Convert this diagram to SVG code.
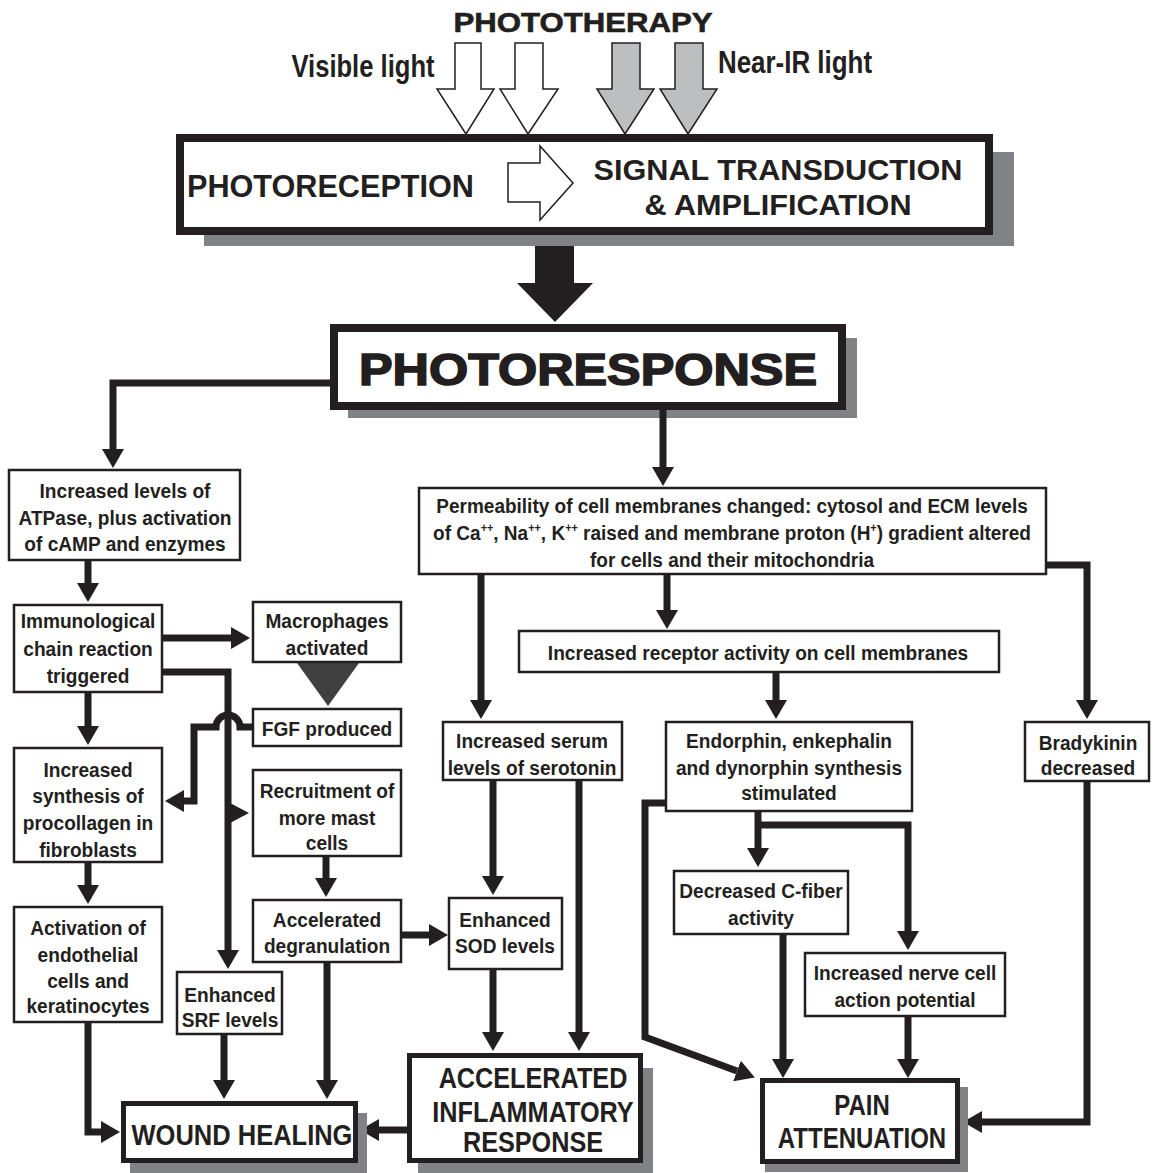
<svg xmlns="http://www.w3.org/2000/svg" width="1153" height="1173" viewBox="0 0 1153 1173">
<defs>
<style>
.t{font-family:"Liberation Sans",Arial,sans-serif;font-weight:bold;fill:#231f20;text-anchor:middle}
.s{font-size:21px}
.big{font-size:30px}
.w{font-family:"Liberation Sans",Arial,sans-serif;font-weight:bold;fill:#231f20}
.box{fill:#fff;stroke:#231f20;stroke-width:2.5}
.bbox{fill:#fff;stroke:#231f20;stroke-width:5}
.hbox{fill:#fff;stroke:#231f20;stroke-width:8}
.shadow{fill:#808285}
.c{fill:none;stroke:#231f20;stroke-width:7;marker-end:url(#ah)}
.la{stroke:#231f20;stroke-width:1.5;stroke-linejoin:miter}
</style>
<marker id="ah" markerUnits="userSpaceOnUse" markerWidth="20" markerHeight="22" refX="0" refY="11" orient="auto" viewBox="0 0 20 22">
<path d="M0,0 L19,11 L0,22 z" fill="#231f20"/>
</marker>
</defs>
<rect width="1153" height="1173" fill="#fff"/>

<g id="phototherapy">
<text class="w" x="583" y="32" font-size="27" text-anchor="middle" textLength="259" lengthAdjust="spacingAndGlyphs" stroke="#231f20" stroke-width="0.6">PHOTOTHERAPY</text>
<g transform="translate(363,0) scale(0.8,1)"><text class="t" x="0" y="77" font-size="32">Visible light</text></g>
<g transform="translate(795,0) scale(0.81,1)"><text class="t" x="0" y="73" font-size="32">Near-IR light</text></g>
<polygon class="la" fill="#fff" points="455,43 481,43 481,89 494,89 466,134 437,89 455,89"/>
<polygon class="la" fill="#fff" points="515,43 543,43 543,89 558,89 528,134 500,89 515,89"/>
<polygon class="la" fill="#bcbec0" points="612,43 640,43 640,89 654,89 625,134 597,89 612,89"/>
<polygon class="la" fill="#bcbec0" points="675,43 703,43 703,89 717,89 688,134 660,89 675,89"/>
</g>

<g id="signal-box">
<rect class="shadow" x="204" y="152" width="810" height="94"/>
<rect class="hbox" x="180" y="138" width="809" height="93"/>
<text class="w" x="187" y="197" font-size="31" textLength="287" lengthAdjust="spacingAndGlyphs">PHOTORECEPTION</text>
<polygon class="la" fill="#fff" points="508,163 540,163 540,146 573,183 540,220 540,202 508,202"/>
<text class="w" x="778" y="180" font-size="30" text-anchor="middle" textLength="369" lengthAdjust="spacingAndGlyphs">SIGNAL TRANSDUCTION</text>
<text class="w" x="778" y="215" font-size="30" text-anchor="middle" textLength="267" lengthAdjust="spacingAndGlyphs">&amp; AMPLIFICATION</text>
</g>

<g id="big-arrow">
<polygon fill="#231f20" points="535,246 574,246 574,283 593,283 555,322 517,283 535,283"/>
</g>

<g id="photoresponse">
<rect class="shadow" x="348" y="338" width="509" height="80"/>
<rect class="hbox" x="334" y="328" width="508" height="78"/>
<text class="w" x="588" y="385" font-size="45" text-anchor="middle" textLength="458" lengthAdjust="spacingAndGlyphs" stroke="#231f20" stroke-width="1.6">PHOTORESPONSE</text>
</g>

<g id="connectors">
<path class="c" d="M334,383 H113 V449"/>
<path class="c" d="M663,410 V467"/>
<path class="c" d="M88,561 V583"/>
<path class="c" d="M163,638 H231"/>
<path class="c" d="M163,672 H228 V950"/>
<polygon fill="#231f20" points="230,803 249,813 230,823"/>
<polygon fill="#404041" points="297,663 359,663 328,706"/>
<path class="c" d="M252,727 H240 A12,12 0 0 0 216,727 H194 V801 H184"/>
<path class="c" d="M88,693 V726"/>
<path class="c" d="M88,863 V885"/>
<path class="c" d="M88,1023 V1132 H101"/>
<path class="c" d="M224,1035 V1080"/>
<path class="c" d="M326,857 V878"/>
<path class="c" d="M327,963 V1080"/>
<path class="c" d="M402,935 H429"/>
<path class="c" d="M481,575 V700"/>
<path class="c" d="M667,575 V610"/>
<path class="c" d="M1047,565 H1087 V700"/>
<path class="c" d="M776,673 V700"/>
<path class="c" d="M493,781 V876"/>
<path class="c" d="M579,781 V1032"/>
<path class="c" d="M493,970 V1032"/>
<path class="c" d="M407,1130 H379"/>
<path class="c" d="M666,803 H645 V1037 L737,1071"/>
<path class="c" d="M758,812 V848"/>
<path class="c" d="M758,825 H908 V931"/>
<path class="c" d="M783,935 V1059"/>
<path class="c" d="M908,1017 V1059"/>
<path class="c" d="M1087,782 V1122 H982"/>
</g>

<g id="atpase">
<rect class="box" x="9" y="470" width="231" height="90"/>
<g transform="translate(125,0) scale(0.91,1)">
<text class="t s" x="0" y="498">Increased levels of</text>
<text class="t s" x="0" y="525">ATPase, plus activation</text>
<text class="t s" x="0" y="551">of cAMP and enzymes</text>
</g>
</g>
<g id="immunological">
<rect class="box" x="14" y="605" width="148" height="87"/>
<g transform="translate(88,0) scale(0.91,1)">
<text class="t s" x="0" y="628">Immunological</text>
<text class="t s" x="0" y="656">chain reaction</text>
<text class="t s" x="0" y="683">triggered</text>
</g>
</g>
<g id="macrophages">
<rect class="box" x="253" y="602" width="148" height="60"/>
<g transform="translate(327,0) scale(0.91,1)">
<text class="t s" x="0" y="628">Macrophages</text>
<text class="t s" x="0" y="655">activated</text>
</g>
</g>
<g id="fgf">
<rect class="box" x="253" y="709" width="148" height="37"/>
<g transform="translate(327,0) scale(0.91,1)">
<text class="t s" x="0" y="736">FGF produced</text>
</g>
</g>
<g id="procollagen">
<rect class="box" x="14" y="748" width="148" height="114"/>
<g transform="translate(88,0) scale(0.91,1)">
<text class="t s" x="0" y="777">Increased</text>
<text class="t s" x="0" y="803">synthesis of</text>
<text class="t s" x="0" y="830">procollagen in</text>
<text class="t s" x="0" y="857">fibroblasts</text>
</g>
</g>
<g id="recruitment">
<rect class="box" x="253" y="770" width="148" height="86"/>
<g transform="translate(327,0) scale(0.91,1)">
<text class="t s" x="0" y="798">Recruitment of</text>
<text class="t s" x="0" y="825">more mast</text>
<text class="t s" x="0" y="850">cells</text>
</g>
</g>
<g id="activation">
<rect class="box" x="14" y="907" width="148" height="115"/>
<g transform="translate(88,0) scale(0.91,1)">
<text class="t s" x="0" y="935">Activation of</text>
<text class="t s" x="0" y="962">endothelial</text>
<text class="t s" x="0" y="988">cells and</text>
<text class="t s" x="0" y="1013">keratinocytes</text>
</g>
</g>
<g id="srf">
<rect class="box" x="177" y="972" width="105" height="62"/>
<g transform="translate(230,0) scale(0.91,1)">
<text class="t s" x="0" y="1002">Enhanced</text>
<text class="t s" x="0" y="1027">SRF levels</text>
</g>
</g>
<g id="degranulation">
<rect class="box" x="253" y="900" width="148" height="62"/>
<g transform="translate(327,0) scale(0.91,1)">
<text class="t s" x="0" y="927">Accelerated</text>
<text class="t s" x="0" y="953">degranulation</text>
</g>
</g>
<g id="sod">
<rect class="box" x="449" y="898" width="113" height="71"/>
<g transform="translate(505,0) scale(0.91,1)">
<text class="t s" x="0" y="927">Enhanced</text>
<text class="t s" x="0" y="953">SOD levels</text>
</g>
</g>
<g id="permeability">
<rect class="box" x="419" y="488" width="627" height="86"/>
<g transform="translate(732,0) scale(0.906,1)">
<text class="t s" x="0" y="513">Permeability of cell membranes changed: cytosol and ECM levels</text>
<text class="t s" x="0" y="540">of Ca<tspan dy="-8" font-size="12">++</tspan><tspan dy="8">, Na</tspan><tspan dy="-8" font-size="12">++</tspan><tspan dy="8">, K</tspan><tspan dy="-8" font-size="12">++</tspan><tspan dy="8"> raised and membrane proton (H</tspan><tspan dy="-8" font-size="12">+</tspan><tspan dy="8">) gradient altered</tspan></text>
<text class="t s" x="0" y="567">for cells and their mitochondria</text>
</g>
</g>
<g id="receptor">
<rect class="box" x="519" y="631" width="480" height="41"/>
<g transform="translate(758,0) scale(0.91,1)">
<text class="t s" x="0" y="660">Increased receptor activity on cell membranes</text>
</g>
</g>
<g id="serotonin">
<rect class="box" x="443" y="722" width="179" height="58"/>
<g transform="translate(532,0) scale(0.91,1)">
<text class="t s" x="0" y="748">Increased serum</text>
<text class="t s" x="0" y="775">levels of serotonin</text>
</g>
</g>
<g id="endorphin">
<rect class="box" x="666" y="722" width="246" height="89"/>
<g transform="translate(789,0) scale(0.91,1)">
<text class="t s" x="0" y="748">Endorphin, enkephalin</text>
<text class="t s" x="0" y="775">and dynorphin synthesis</text>
<text class="t s" x="0" y="800">stimulated</text>
</g>
</g>
<g id="bradykinin">
<rect class="box" x="1025" y="722" width="124" height="59"/>
<g transform="translate(1088,0) scale(0.91,1)">
<text class="t s" x="0" y="750">Bradykinin</text>
<text class="t s" x="0" y="775">decreased</text>
</g>
</g>
<g id="cfiber">
<rect class="box" x="674" y="871" width="174" height="63"/>
<g transform="translate(761,0) scale(0.91,1)">
<text class="t s" x="0" y="898">Decreased C-fiber</text>
<text class="t s" x="0" y="925">activity</text>
</g>
</g>
<g id="nerve">
<rect class="box" x="805" y="953" width="200" height="63"/>
<g transform="translate(905,0) scale(0.91,1)">
<text class="t s" x="0" y="980">Increased nerve cell</text>
<text class="t s" x="0" y="1007">action potential</text>
</g>
</g>
<g id="wound-healing">
<rect class="shadow" x="130" y="1113" width="237" height="60"/>
<rect class="bbox" x="123.5" y="1103.5" width="232" height="57"/>
<g transform="translate(242,0) scale(0.85,1)">
<text class="t big" x="0" y="1145">WOUND HEALING</text>
</g>
</g>
<g id="inflammatory">
<rect class="shadow" x="418" y="1068" width="235" height="105"/>
<rect class="bbox" x="409.5" y="1055.5" width="231" height="105"/>
<g transform="translate(533,0) scale(0.87,1)">
<text class="t" font-size="29" x="0" y="1088">ACCELERATED</text>
<text class="t" font-size="29" x="0" y="1122">INFLAMMATORY</text>
<text class="t" font-size="29" x="0" y="1152">RESPONSE</text>
</g>
</g>
<g id="pain">
<rect class="shadow" x="765" y="1087" width="203" height="85"/>
<rect class="bbox" x="762.5" y="1080.5" width="195" height="81"/>
<g transform="translate(862,0) scale(0.8,1)">
<text class="t big" x="0" y="1115">PAIN</text>
<text class="t big" x="0" y="1148">ATTENUATION</text>
</g>
</g>
</svg>
